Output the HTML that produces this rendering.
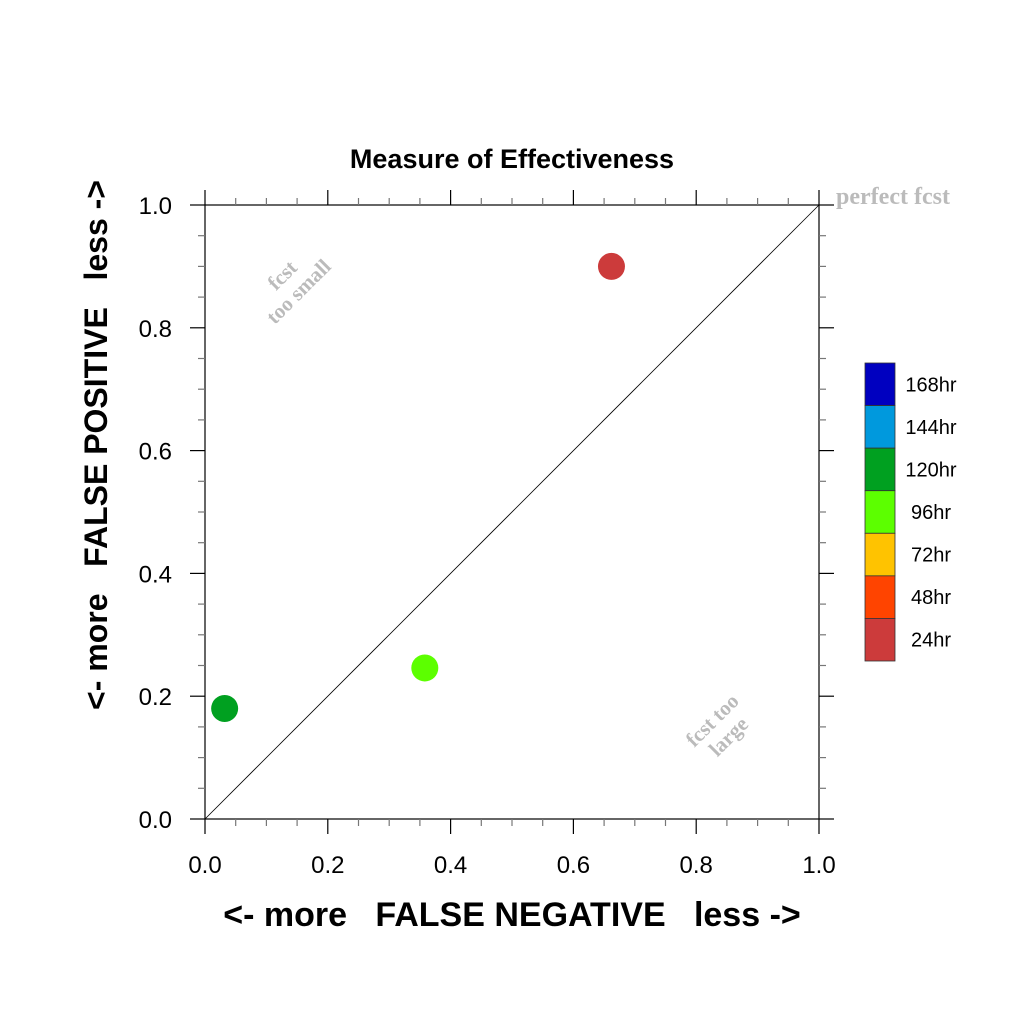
<!DOCTYPE html>
<html><head><meta charset="utf-8"><style>
html,body{margin:0;padding:0;background:#fff}
svg{display:block}
text{font-family:"Liberation Sans",sans-serif}
text.serif{font-family:"Liberation Serif",serif}
</style></head><body>
<svg id="chart" width="1024" height="1024" viewBox="0 0 1024 1024">
<text x="512" y="168" text-anchor="middle" font-size="27" font-weight="bold">Measure of Effectiveness</text>
<g id="axes"></g>
<line x1="205" y1="819" x2="819" y2="205" stroke="#000" stroke-width="0.8"/>
<text class="serif" x="893" y="204" text-anchor="middle" font-weight="bold" font-size="24" fill="#bbb">perfect fcst</text>
<g transform="translate(290,283) rotate(-45)" fill="#bbb" font-weight="bold" font-size="21">
<text class="serif" x="0" y="-4" text-anchor="middle">fcst</text><text class="serif" x="0" y="19" text-anchor="middle">too small</text></g>
<g transform="translate(720,728) rotate(-45)" fill="#bbb" font-weight="bold" font-size="21">
<text class="serif" x="0" y="-4" text-anchor="middle">fcst too</text><text class="serif" x="0" y="19" text-anchor="middle">large</text></g>
<g id="points"></g>
<g id="legend"></g>
<text x="512" y="926" text-anchor="middle" font-size="34" font-weight="bold" xml:space="preserve">&lt;- more   FALSE NEGATIVE   less -&gt;</text>
<text transform="translate(107,445) rotate(-90)" text-anchor="middle" font-size="32" font-weight="bold" xml:space="preserve">&lt;- more   FALSE POSITIVE   less -&gt;</text>
</svg>
<script>
const xVals=[0.032,0.358,0.662];
const yVals=[0.18,0.246,0.90];
const ptColors=["#00a020","#5cff00","#cc3b3b"];
const tickLabels=["0.0","0.2","0.4","0.6","0.8","1.0"];
const legendLabels=["168hr","144hr","120hr","96hr","72hr","48hr","24hr"];
const legendColors=["#0000c0","#0099dd","#00a020","#5cff00","#ffc300","#ff4400","#cc3b3b"];
const X0=205,X1=819,Y0=819,Y1=205;
const sx=v=>X0+v*(X1-X0), sy=v=>Y0-v*(Y0-Y1);
const NS="http://www.w3.org/2000/svg";
function mk(t,a,p){const e=document.createElementNS(NS,t);for(const k in a)e.setAttribute(k,a[k]);p.appendChild(e);return e;}
const ax=document.getElementById('axes');
const fr=mk('rect',{x:X0,y:Y1,width:X1-X0,height:Y0-Y1,fill:'none',stroke:'#000','stroke-width':1.2},ax);


for(let i=0;i<=20;i++){
  const v=i/20, major=i%4==0, L=major?15:7, c=major?'#000':'#777';
  const x=sx(v), y=sy(v);
  mk('line',{x1:x,y1:Y0,x2:x,y2:Y0+L,stroke:c,'stroke-width':1.2},ax);
  mk('line',{x1:x,y1:Y1,x2:x,y2:Y1-L,stroke:c,'stroke-width':1.2},ax);
  mk('line',{x1:X0,y1:y,x2:X0-L,y2:y,stroke:c,'stroke-width':1.2},ax);
  mk('line',{x1:X1,y1:y,x2:X1+L,y2:y,stroke:c,'stroke-width':1.2},ax);
}
tickLabels.forEach((t,i)=>{
  const v=i/(tickLabels.length-1);
  const tx=mk('text',{x:sx(v),y:873,'text-anchor':'middle','font-size':24},ax);tx.textContent=t;
  
  
  const ty=mk('text',{x:172,y:sy(v)+9,'text-anchor':'end','font-size':24},ax);ty.textContent=t;
  
  
});
const pg=document.getElementById('points');
xVals.forEach((v,i)=>{
  const c=mk('circle',{cx:sx(v),cy:sy(yVals[i]),r:13.5,fill:ptColors[i]},pg);
  
  
});
const lg=document.getElementById('legend');
const bh=(661-363)/legendLabels.length;
legendLabels.forEach((t,i)=>{
  const y=363+i*bh;
  const r=mk('rect',{x:865,y:y,width:30,height:bh,fill:legendColors[i],stroke:'#333','stroke-width':0.8},lg);
  
  
  const tx=mk('text',{x:931,y:y+bh/2+7,'text-anchor':'middle','font-size':20},lg);tx.textContent=t;
  
  
});
</script>
</body></html>
